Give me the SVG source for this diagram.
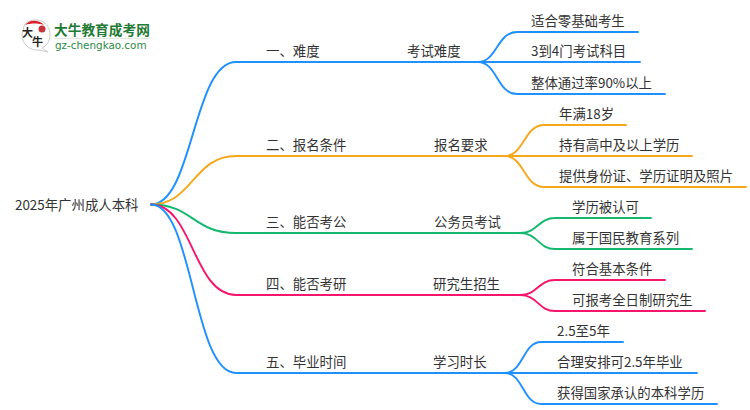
<svg xmlns="http://www.w3.org/2000/svg" width="750" height="410" viewBox="0 0 750 410">
<style>
text{font-family:"Noto Sans CJK SC","Noto Sans",sans-serif;font-size:13.4px;fill:#333}
#connectors path{fill:none;stroke-width:1.9;stroke-linecap:round}
.b{stroke:#1e90ff}.o{stroke:#f5a81c}.g{stroke:#14b86e}.r{stroke:#f5156c}
</style>
<rect width="750" height="410" fill="#fff"/>
<g id="logo">
<path d="M24 26C26 21 31 20 36 20C46 20 50 28 50 35C50 42 46 46 42 48L48 52L39 50C30 51 22 44 22 35Z" fill="#fff" stroke="#ccc" stroke-width="1"/>
<path d="M25 25C29 20 38 19 44 25C38 23 31 23 25 25Z" fill="#d8202a"/>
<circle cx="42" cy="29" r="3.500" fill="#c8343c"/>
<text x="22" y="37" style="font-size:11px;font-weight:700;fill:#222">大</text>
<text x="32" y="46" style="font-size:11px;font-weight:700;fill:#222">牛</text>
<text x="54" y="35" style="font-size:13.700px;font-weight:700;fill:#1f7a35">大牛教育成考网</text>
<path d="M55 38.500H150" stroke="#dfe9e0" stroke-width="1"/>
<text x="55" y="49" style="font-size:10.400px;font-family:'DejaVu Sans',sans-serif;fill:#2c8a45">gz-chengkao.com</text>
</g>
<g id="connectors">
<path class="b" d="M151 204.500C193 204.500 193 62 236 62H478"/>
<path class="o" d="M151 204.500C193 204.500 193 156 236 156H505"/>
<path class="g" d="M151 204.500C193 204.500 193 233 236 233H520"/>
<path class="r" d="M151 204.500C193 204.500 193 295 236 295H520"/>
<path class="b" d="M151 204.500C193 204.500 193 373 236 373H505"/>
<path class="b" d="M478 62C497 62 497 32 517 32H638"/>
<path class="b" d="M478 62H640"/>
<path class="b" d="M478 62C497 62 497 94 517 94H665"/>
<path class="o" d="M505 156C524 156 524 125 544 125H626"/>
<path class="o" d="M505 156H692"/>
<path class="o" d="M505 156C524 156 524 187 544 187H746"/>
<path class="g" d="M520 233C538 233 538 218 555 218H651"/>
<path class="g" d="M520 233C538 233 538 249 555 249H692"/>
<path class="r" d="M520 295C538 295 538 280 555 280H665"/>
<path class="r" d="M520 295C538 295 538 311 555 311H705"/>
<path class="b" d="M505 373C523 373 523 342 541 342H623"/>
<path class="b" d="M505 373H697"/>
<path class="b" d="M505 373C523 373 523 404 541 404H717"/>
</g>
<g id="root"><text x="15" y="210">2025年广州成人本科</text></g>
<g id="n1"><text x="266" y="56">一、难度</text></g>
<g id="n2"><text x="266" y="150">二、报名条件</text></g>
<g id="n3"><text x="266" y="227">三、能否考公</text></g>
<g id="n4"><text x="266" y="289">四、能否考研</text></g>
<g id="n5"><text x="266" y="367">五、毕业时间</text></g>
<g id="m1"><text x="407" y="56">考试难度</text></g>
<g id="m2"><text x="434" y="150">报名要求</text></g>
<g id="m3"><text x="434" y="227">公务员考试</text></g>
<g id="m4"><text x="433" y="289">研究生招生</text></g>
<g id="m5"><text x="433" y="367">学习时长</text></g>
<g id="l1"><text x="531" y="26">适合零基础考生</text></g>
<g id="l2"><text x="531" y="56">3到4门考试科目</text></g>
<g id="l3"><text x="531" y="88">整体通过率90%以上</text></g>
<g id="l4"><text x="559" y="119">年满18岁</text></g>
<g id="l5"><text x="559" y="150">持有高中及以上学历</text></g>
<g id="l6"><text x="559" y="181">提供身份证、学历证明及照片</text></g>
<g id="l7"><text x="572" y="212">学历被认可</text></g>
<g id="l8"><text x="572" y="243">属于国民教育系列</text></g>
<g id="l9"><text x="572" y="274">符合基本条件</text></g>
<g id="l10"><text x="572" y="305">可报考全日制研究生</text></g>
<g id="l11"><text x="557" y="336">2.5至5年</text></g>
<g id="l12"><text x="557" y="367">合理安排可2.5年毕业</text></g>
<g id="l13"><text x="557" y="398">获得国家承认的本科学历</text></g>
</svg>
